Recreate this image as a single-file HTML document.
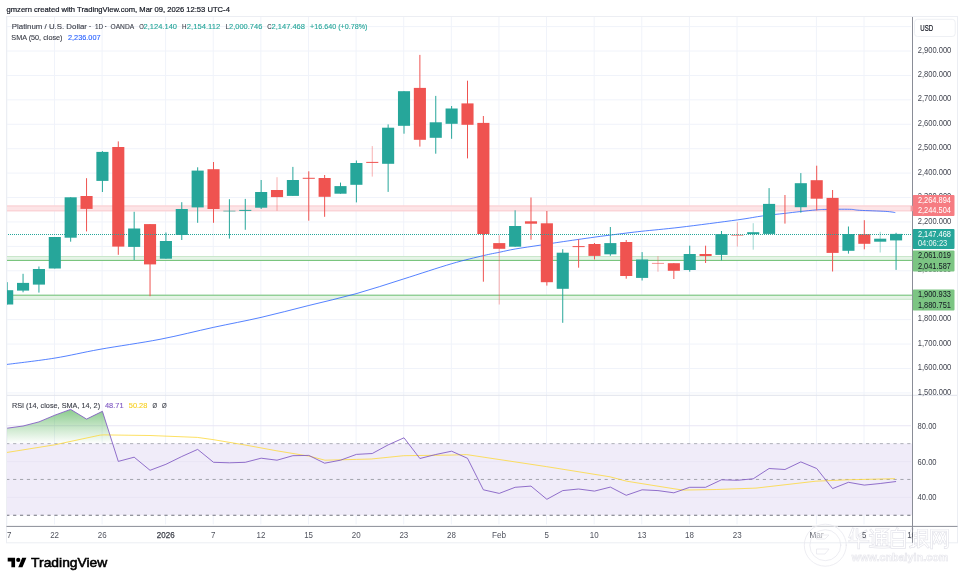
<!DOCTYPE html><html><head><meta charset="utf-8"><style>html,body{margin:0;padding:0;background:#fff;width:964px;height:582px;overflow:hidden}svg{display:block;will-change:transform}text{font-family:"Liberation Sans",sans-serif}</style></head><body>
<svg width="964" height="582" viewBox="0 0 964 582">
<defs><clipPath id="mp"><rect x="6.5" y="16.5" width="906.0" height="378.8"/></clipPath>
<clipPath id="rp"><rect x="6.5" y="395.3" width="906.0" height="131.1"/></clipPath>
<linearGradient id="gg" x1="0" y1="390.7" x2="0" y2="443.7" gradientUnits="userSpaceOnUse"><stop offset="0" stop-color="#4caf50" stop-opacity="1"/><stop offset="1" stop-color="#4caf50" stop-opacity="0"/></linearGradient>
</defs>
<rect width="964" height="582" fill="#fff"/>
<g stroke="#f0f3fa" stroke-width="1" fill="none">
<line x1="6.88" y1="16.5" x2="6.88" y2="395.3"/>
<line x1="6.88" y1="395.3" x2="6.88" y2="524.4"/>
<line x1="54.50" y1="16.5" x2="54.50" y2="395.3"/>
<line x1="54.50" y1="395.3" x2="54.50" y2="524.4"/>
<line x1="102.12" y1="16.5" x2="102.12" y2="395.3"/>
<line x1="102.12" y1="395.3" x2="102.12" y2="524.4"/>
<line x1="165.61" y1="16.5" x2="165.61" y2="395.3"/>
<line x1="165.61" y1="395.3" x2="165.61" y2="524.4"/>
<line x1="213.23" y1="16.5" x2="213.23" y2="395.3"/>
<line x1="213.23" y1="395.3" x2="213.23" y2="524.4"/>
<line x1="260.85" y1="16.5" x2="260.85" y2="395.3"/>
<line x1="260.85" y1="395.3" x2="260.85" y2="524.4"/>
<line x1="308.47" y1="16.5" x2="308.47" y2="395.3"/>
<line x1="308.47" y1="395.3" x2="308.47" y2="524.4"/>
<line x1="356.09" y1="16.5" x2="356.09" y2="395.3"/>
<line x1="356.09" y1="395.3" x2="356.09" y2="524.4"/>
<line x1="403.71" y1="16.5" x2="403.71" y2="395.3"/>
<line x1="403.71" y1="395.3" x2="403.71" y2="524.4"/>
<line x1="451.32" y1="16.5" x2="451.32" y2="395.3"/>
<line x1="451.32" y1="395.3" x2="451.32" y2="524.4"/>
<line x1="498.94" y1="16.5" x2="498.94" y2="395.3"/>
<line x1="498.94" y1="395.3" x2="498.94" y2="524.4"/>
<line x1="546.56" y1="16.5" x2="546.56" y2="395.3"/>
<line x1="546.56" y1="395.3" x2="546.56" y2="524.4"/>
<line x1="594.18" y1="16.5" x2="594.18" y2="395.3"/>
<line x1="594.18" y1="395.3" x2="594.18" y2="524.4"/>
<line x1="641.80" y1="16.5" x2="641.80" y2="395.3"/>
<line x1="641.80" y1="395.3" x2="641.80" y2="524.4"/>
<line x1="689.42" y1="16.5" x2="689.42" y2="395.3"/>
<line x1="689.42" y1="395.3" x2="689.42" y2="524.4"/>
<line x1="737.04" y1="16.5" x2="737.04" y2="395.3"/>
<line x1="737.04" y1="395.3" x2="737.04" y2="524.4"/>
<line x1="816.40" y1="16.5" x2="816.40" y2="395.3"/>
<line x1="816.40" y1="395.3" x2="816.40" y2="524.4"/>
<line x1="864.02" y1="16.5" x2="864.02" y2="395.3"/>
<line x1="864.02" y1="395.3" x2="864.02" y2="524.4"/>
<line x1="6.5" y1="26.60" x2="911.0" y2="26.60"/>
<line x1="6.5" y1="51.02" x2="911.0" y2="51.02"/>
<line x1="6.5" y1="75.44" x2="911.0" y2="75.44"/>
<line x1="6.5" y1="99.86" x2="911.0" y2="99.86"/>
<line x1="6.5" y1="124.28" x2="911.0" y2="124.28"/>
<line x1="6.5" y1="148.70" x2="911.0" y2="148.70"/>
<line x1="6.5" y1="173.12" x2="911.0" y2="173.12"/>
<line x1="6.5" y1="197.54" x2="911.0" y2="197.54"/>
<line x1="6.5" y1="221.96" x2="911.0" y2="221.96"/>
<line x1="6.5" y1="246.38" x2="911.0" y2="246.38"/>
<line x1="6.5" y1="270.80" x2="911.0" y2="270.80"/>
<line x1="6.5" y1="295.22" x2="911.0" y2="295.22"/>
<line x1="6.5" y1="319.64" x2="911.0" y2="319.64"/>
<line x1="6.5" y1="344.06" x2="911.0" y2="344.06"/>
<line x1="6.5" y1="368.48" x2="911.0" y2="368.48"/>
<line x1="6.5" y1="392.90" x2="911.0" y2="392.90"/>
</g>
<g clip-path="url(#mp)">
<rect x="6.5" y="205.5" width="906.0" height="5.8" fill="#fde4e6"/>
<line x1="6.5" y1="206.0" x2="912.5" y2="206.0" stroke="#f9cdd1" stroke-width="1"/>
<line x1="6.5" y1="210.8" x2="912.5" y2="210.8" stroke="#f9cdd1" stroke-width="1"/>
<rect x="6.5" y="256.3" width="906.0" height="4.2" fill="#e6f4e7"/>
<line x1="6.5" y1="256.5" x2="912.5" y2="256.5" stroke="#c9e7cb" stroke-width="1"/>
<line x1="6.5" y1="260.4" x2="912.5" y2="260.4" stroke="#6cbf70" stroke-width="1"/>
<rect x="6.5" y="295.2" width="906.0" height="4.4" fill="#e6f4e7"/>
<line x1="6.5" y1="295.2" x2="912.5" y2="295.2" stroke="#6cbf70" stroke-width="1"/>
<line x1="6.5" y1="299.3" x2="912.5" y2="299.3" stroke="#c9e7cb" stroke-width="1"/>
<path fill="none" stroke="#2962ff" stroke-width="0.8" d="M6.50,364.50 C14.55,363.43 39.22,360.63 54.80,358.10 C70.38,355.57 82.47,352.43 100.00,349.30 C117.53,346.17 141.12,342.95 160.00,339.30 C178.88,335.65 196.47,331.05 213.30,327.40 C230.13,323.75 245.17,321.03 261.00,317.40 C276.83,313.77 292.45,309.55 308.30,305.60 C324.15,301.65 340.25,298.13 356.10,293.70 C371.95,289.27 387.47,284.00 403.40,279.00 C419.33,274.00 438.35,267.60 451.70,263.70 C465.05,259.80 475.50,257.52 483.50,255.60 C491.50,253.68 494.42,253.30 499.70,252.20 C504.98,251.10 508.48,250.17 515.20,249.00 C521.92,247.83 532.53,246.35 540.00,245.20 C547.47,244.05 550.97,243.43 560.00,242.10 C569.03,240.77 584.77,238.50 594.20,237.20 C603.63,235.90 608.72,235.28 616.60,234.30 C624.48,233.32 630.93,232.47 641.50,231.30 C652.07,230.13 664.03,229.20 680.00,227.30 C695.97,225.40 723.50,221.80 737.30,219.90 C751.10,218.00 754.92,216.98 762.80,215.90 C770.68,214.82 778.42,214.12 784.60,213.40 C790.78,212.68 794.65,212.18 799.90,211.60 C805.15,211.02 811.75,210.27 816.10,209.90 C820.45,209.53 820.40,209.50 826.00,209.40 C831.60,209.30 844.08,209.15 849.70,209.30 C855.32,209.45 853.68,209.95 859.70,210.30 C865.72,210.65 879.87,211.02 885.80,211.40 C891.73,211.78 893.72,212.40 895.30,212.60"/>
<line x1="7.18" y1="282.2" x2="7.18" y2="304.5" stroke="#26a69a" stroke-width="1"/>
<rect x="1.13" y="290.2" width="12.1" height="14.3" fill="#26a69a"/>
<line x1="23.05" y1="273.8" x2="23.05" y2="292.3" stroke="#26a69a" stroke-width="1"/>
<rect x="17.00" y="282.9" width="12.1" height="7.7" fill="#26a69a"/>
<line x1="38.93" y1="266.5" x2="38.93" y2="292.6" stroke="#26a69a" stroke-width="1"/>
<rect x="32.88" y="269.0" width="12.1" height="15.6" fill="#26a69a"/>
<line x1="54.80" y1="237.0" x2="54.80" y2="268.5" stroke="#26a69a" stroke-width="1"/>
<rect x="48.75" y="237.0" width="12.1" height="31.5" fill="#26a69a"/>
<line x1="70.67" y1="197.3" x2="70.67" y2="241.7" stroke="#26a69a" stroke-width="1"/>
<rect x="64.62" y="197.3" width="12.1" height="40.4" fill="#26a69a"/>
<line x1="86.55" y1="178.2" x2="86.55" y2="231.4" stroke="#ef5350" stroke-width="1"/>
<rect x="80.50" y="196.0" width="12.1" height="12.9" fill="#ef5350"/>
<line x1="102.42" y1="151.1" x2="102.42" y2="192.0" stroke="#26a69a" stroke-width="1"/>
<rect x="96.37" y="151.9" width="12.1" height="29.0" fill="#26a69a"/>
<line x1="118.29" y1="141.4" x2="118.29" y2="254.8" stroke="#ef5350" stroke-width="1"/>
<rect x="112.24" y="147.0" width="12.1" height="99.6" fill="#ef5350"/>
<line x1="134.16" y1="211.8" x2="134.16" y2="260.0" stroke="#26a69a" stroke-width="1"/>
<rect x="128.11" y="228.5" width="12.1" height="18.4" fill="#26a69a"/>
<line x1="150.04" y1="224.1" x2="150.04" y2="296.2" stroke="#ef5350" stroke-width="1"/>
<rect x="143.99" y="224.1" width="12.1" height="40.3" fill="#ef5350"/>
<line x1="165.91" y1="232.5" x2="165.91" y2="258.7" stroke="#26a69a" stroke-width="1"/>
<rect x="159.86" y="241.0" width="12.1" height="17.7" fill="#26a69a"/>
<line x1="181.78" y1="202.2" x2="181.78" y2="240.0" stroke="#26a69a" stroke-width="1"/>
<rect x="175.73" y="209.0" width="12.1" height="26.0" fill="#26a69a"/>
<line x1="197.66" y1="167.3" x2="197.66" y2="222.8" stroke="#26a69a" stroke-width="1"/>
<rect x="191.61" y="170.6" width="12.1" height="36.8" fill="#26a69a"/>
<line x1="213.53" y1="162.0" x2="213.53" y2="222.8" stroke="#ef5350" stroke-width="1"/>
<rect x="207.48" y="169.2" width="12.1" height="39.8" fill="#ef5350"/>
<line x1="229.40" y1="199.2" x2="229.40" y2="238.6" stroke="#26a69a" stroke-width="1"/>
<rect x="223.35" y="210.6" width="12.1" height="1.0" fill="#26a69a" fill-opacity="0.6"/>
<line x1="245.28" y1="198.9" x2="245.28" y2="229.8" stroke="#26a69a" stroke-width="1"/>
<rect x="239.23" y="209.9" width="12.1" height="1.0" fill="#26a69a"/>
<line x1="261.15" y1="180.0" x2="261.15" y2="209.0" stroke="#26a69a" stroke-width="1"/>
<rect x="255.10" y="192.0" width="12.1" height="15.7" fill="#26a69a"/>
<line x1="277.02" y1="177.2" x2="277.02" y2="210.8" stroke="#ef5350" stroke-width="1" stroke-opacity="0.45"/>
<rect x="270.97" y="190.0" width="12.1" height="7.1" fill="#ef5350"/>
<line x1="292.89" y1="166.9" x2="292.89" y2="195.9" stroke="#26a69a" stroke-width="1"/>
<rect x="286.84" y="180.0" width="12.1" height="15.9" fill="#26a69a"/>
<line x1="308.77" y1="171.3" x2="308.77" y2="220.7" stroke="#ef5350" stroke-width="1"/>
<rect x="302.72" y="177.8" width="12.1" height="1.0" fill="#ef5350"/>
<line x1="324.64" y1="175.0" x2="324.64" y2="216.8" stroke="#ef5350" stroke-width="1"/>
<rect x="318.59" y="178.0" width="12.1" height="18.8" fill="#ef5350"/>
<line x1="340.51" y1="182.6" x2="340.51" y2="193.7" stroke="#26a69a" stroke-width="1"/>
<rect x="334.46" y="186.1" width="12.1" height="7.6" fill="#26a69a"/>
<line x1="356.39" y1="160.5" x2="356.39" y2="202.4" stroke="#26a69a" stroke-width="1"/>
<rect x="350.34" y="163.0" width="12.1" height="21.8" fill="#26a69a"/>
<line x1="372.26" y1="146.1" x2="372.26" y2="176.6" stroke="#ef5350" stroke-width="1" stroke-opacity="0.45"/>
<rect x="366.21" y="161.9" width="12.1" height="1.0" fill="#ef5350"/>
<line x1="388.13" y1="124.4" x2="388.13" y2="191.9" stroke="#26a69a" stroke-width="1"/>
<rect x="382.08" y="127.7" width="12.1" height="36.1" fill="#26a69a"/>
<line x1="404.01" y1="91.2" x2="404.01" y2="133.7" stroke="#26a69a" stroke-width="1"/>
<rect x="397.96" y="91.2" width="12.1" height="34.6" fill="#26a69a"/>
<line x1="419.88" y1="54.9" x2="419.88" y2="146.6" stroke="#ef5350" stroke-width="1"/>
<rect x="413.83" y="87.9" width="12.1" height="51.9" fill="#ef5350"/>
<line x1="435.75" y1="95.9" x2="435.75" y2="153.7" stroke="#26a69a" stroke-width="1"/>
<rect x="429.70" y="122.3" width="12.1" height="15.5" fill="#26a69a"/>
<line x1="451.62" y1="106.0" x2="451.62" y2="138.8" stroke="#26a69a" stroke-width="1"/>
<rect x="445.57" y="108.5" width="12.1" height="15.3" fill="#26a69a"/>
<line x1="467.50" y1="80.7" x2="467.50" y2="158.4" stroke="#ef5350" stroke-width="1"/>
<rect x="461.45" y="103.4" width="12.1" height="21.4" fill="#ef5350"/>
<line x1="483.37" y1="116.0" x2="483.37" y2="281.7" stroke="#ef5350" stroke-width="1"/>
<rect x="477.32" y="122.9" width="12.1" height="111.1" fill="#ef5350"/>
<line x1="499.24" y1="235.3" x2="499.24" y2="304.5" stroke="#ef5350" stroke-width="1" stroke-opacity="0.45"/>
<rect x="493.19" y="243.1" width="12.1" height="5.7" fill="#ef5350"/>
<line x1="515.12" y1="210.3" x2="515.12" y2="246.7" stroke="#26a69a" stroke-width="1"/>
<rect x="509.07" y="226.0" width="12.1" height="20.7" fill="#26a69a"/>
<line x1="530.99" y1="197.5" x2="530.99" y2="239.7" stroke="#ef5350" stroke-width="1"/>
<rect x="524.94" y="221.3" width="12.1" height="2.4" fill="#ef5350"/>
<line x1="546.86" y1="211.0" x2="546.86" y2="285.6" stroke="#ef5350" stroke-width="1"/>
<rect x="540.81" y="223.3" width="12.1" height="58.9" fill="#ef5350"/>
<line x1="562.74" y1="249.2" x2="562.74" y2="322.8" stroke="#26a69a" stroke-width="1"/>
<rect x="556.69" y="252.7" width="12.1" height="36.1" fill="#26a69a"/>
<line x1="578.61" y1="239.3" x2="578.61" y2="267.7" stroke="#ef5350" stroke-width="1"/>
<rect x="572.56" y="246.1" width="12.1" height="1.0" fill="#ef5350"/>
<line x1="594.48" y1="243.0" x2="594.48" y2="259.5" stroke="#ef5350" stroke-width="1"/>
<rect x="588.43" y="244.0" width="12.1" height="11.9" fill="#ef5350"/>
<line x1="610.35" y1="227.0" x2="610.35" y2="255.8" stroke="#26a69a" stroke-width="1"/>
<rect x="604.30" y="243.1" width="12.1" height="11.2" fill="#26a69a"/>
<line x1="626.23" y1="240.0" x2="626.23" y2="278.7" stroke="#ef5350" stroke-width="1"/>
<rect x="620.18" y="242.0" width="12.1" height="34.0" fill="#ef5350"/>
<line x1="642.10" y1="252.1" x2="642.10" y2="280.5" stroke="#26a69a" stroke-width="1"/>
<rect x="636.05" y="259.5" width="12.1" height="18.4" fill="#26a69a"/>
<line x1="657.97" y1="256.2" x2="657.97" y2="271.7" stroke="#ef5350" stroke-width="1" stroke-opacity="0.45"/>
<rect x="651.92" y="262.9" width="12.1" height="1.0" fill="#ef5350" fill-opacity="0.6"/>
<line x1="673.85" y1="263.2" x2="673.85" y2="279.0" stroke="#ef5350" stroke-width="1"/>
<rect x="667.80" y="263.2" width="12.1" height="7.6" fill="#ef5350"/>
<line x1="689.72" y1="245.7" x2="689.72" y2="271.7" stroke="#26a69a" stroke-width="1"/>
<rect x="683.67" y="254.0" width="12.1" height="16.0" fill="#26a69a"/>
<line x1="705.59" y1="245.7" x2="705.59" y2="263.0" stroke="#ef5350" stroke-width="1"/>
<rect x="699.54" y="254.0" width="12.1" height="2.0" fill="#ef5350"/>
<line x1="721.47" y1="231.0" x2="721.47" y2="260.4" stroke="#26a69a" stroke-width="1"/>
<rect x="715.42" y="234.1" width="12.1" height="20.8" fill="#26a69a"/>
<line x1="737.34" y1="222.2" x2="737.34" y2="246.6" stroke="#ef5350" stroke-width="1" stroke-opacity="0.45"/>
<rect x="731.29" y="234.8" width="12.1" height="1.0" fill="#ef5350" fill-opacity="0.6"/>
<line x1="753.21" y1="223.2" x2="753.21" y2="249.7" stroke="#26a69a" stroke-width="1" stroke-opacity="0.45"/>
<rect x="747.16" y="232.2" width="12.1" height="1.9" fill="#26a69a"/>
<line x1="769.08" y1="188.1" x2="769.08" y2="233.9" stroke="#26a69a" stroke-width="1"/>
<rect x="763.03" y="203.9" width="12.1" height="30.0" fill="#26a69a"/>
<line x1="784.96" y1="195.0" x2="784.96" y2="223.6" stroke="#ef5350" stroke-width="1"/>
<line x1="800.83" y1="173.1" x2="800.83" y2="212.7" stroke="#26a69a" stroke-width="1"/>
<rect x="794.78" y="183.2" width="12.1" height="24.0" fill="#26a69a"/>
<line x1="816.70" y1="165.7" x2="816.70" y2="210.4" stroke="#ef5350" stroke-width="1"/>
<rect x="810.65" y="180.2" width="12.1" height="18.5" fill="#ef5350"/>
<line x1="832.58" y1="190.0" x2="832.58" y2="271.5" stroke="#ef5350" stroke-width="1"/>
<rect x="826.53" y="197.9" width="12.1" height="55.0" fill="#ef5350"/>
<line x1="848.45" y1="226.5" x2="848.45" y2="253.6" stroke="#26a69a" stroke-width="1"/>
<rect x="842.40" y="234.0" width="12.1" height="16.8" fill="#26a69a"/>
<line x1="864.32" y1="220.2" x2="864.32" y2="249.3" stroke="#ef5350" stroke-width="1"/>
<rect x="858.27" y="234.2" width="12.1" height="9.6" fill="#ef5350"/>
<line x1="880.20" y1="231.8" x2="880.20" y2="252.5" stroke="#26a69a" stroke-width="1" stroke-opacity="0.45"/>
<rect x="874.15" y="238.7" width="12.1" height="3.0" fill="#26a69a"/>
<line x1="896.07" y1="232.8" x2="896.07" y2="269.9" stroke="#26a69a" stroke-width="1"/>
<rect x="890.02" y="233.9" width="12.1" height="6.5" fill="#26a69a"/>
<line x1="6" y1="234.5" x2="912.5" y2="234.5" stroke="#26a69a" stroke-width="1" stroke-dasharray="1 1"/>
</g>
<g clip-path="url(#rp)">
<rect x="6.5" y="443.6" width="906.0" height="71.6" fill="#f0ecf9"/>
<line x1="6.5" y1="425.75" x2="911.0" y2="425.75" stroke="#e9e6f5" stroke-width="1"/>
<line x1="6.5" y1="461.55" x2="911.0" y2="461.55" stroke="#e9e6f5" stroke-width="1"/>
<line x1="6.5" y1="497.35" x2="911.0" y2="497.35" stroke="#e9e6f5" stroke-width="1"/>
<line x1="6.22" y1="443.65" x2="912.5" y2="443.65" stroke="#aeb0b8" stroke-width="1" stroke-dasharray="3.2 3.678"/>
<line x1="6.22" y1="479.45" x2="912.5" y2="479.45" stroke="#a2a4ad" stroke-width="1" stroke-dasharray="3.2 3.678"/>
<line x1="6.22" y1="515.25" x2="912.5" y2="515.25" stroke="#70737d" stroke-width="1" stroke-dasharray="3.2 3.678"/>
<polygon fill="url(#gg)" points="5.50,443.65 5.50,428.20 7.18,428.20 23.05,426.00 38.93,421.90 54.80,415.20 70.67,409.40 86.55,419.10 102.42,411.30 112.67,443.65"/>
<polyline fill="none" stroke="#fcd83a" stroke-width="0.8" points="6.6,452.5 54.8,444.8 100.2,435.1 104.0,434.9 150.0,435.5 197.3,437.4 213.0,439.6 244.6,444.9 276.1,450.7 310.0,456.3 324.9,460.2 356.4,459.4 371.4,459.0 403.7,455.7 450.0,455.1 466.6,454.6 546.3,466.6 610.0,476.8 626.6,481.2 673.0,488.6 683.0,490.1 716.2,489.5 756.0,488.1 815.9,481.2 847.4,479.8 895.0,478.7"/>
<polyline fill="none" stroke="#7e57c2" stroke-width="0.85" stroke-linejoin="round" points="7.18,428.20 23.05,426.00 38.93,421.90 54.80,415.20 70.67,409.40 86.55,419.10 102.42,411.30 118.29,461.40 134.16,457.20 150.04,470.30 165.91,464.30 181.78,456.50 197.66,449.40 213.53,462.30 229.40,462.80 245.28,462.30 261.15,458.20 277.02,460.20 292.89,455.70 308.77,455.40 324.64,463.20 340.51,460.20 356.39,454.40 372.26,453.50 388.13,444.90 404.01,437.80 419.88,458.50 435.75,454.50 451.62,451.20 467.50,458.30 483.37,489.80 499.24,493.40 515.12,487.30 530.99,486.10 546.86,499.30 562.74,490.60 578.61,489.00 594.48,491.10 610.35,487.10 626.23,495.30 642.10,489.80 657.97,490.60 673.85,492.80 689.72,487.30 705.59,487.30 721.47,479.80 737.34,480.30 753.21,478.80 769.08,468.50 784.96,469.50 800.83,461.90 816.70,468.50 832.58,488.60 848.45,482.30 864.32,485.10 880.20,483.50 896.07,481.50"/>
</g>
<line x1="6.5" y1="395.3" x2="957.5" y2="395.3" stroke="#e0e3eb" stroke-width="1"/>
<rect x="6.5" y="16.5" width="951.0" height="526.3" fill="none" stroke="#eceef3" stroke-width="1"/>
<line x1="6.5" y1="526.4" x2="957.5" y2="526.4" stroke="#8a8d97" stroke-width="1"/>
<line x1="912.5" y1="17.0" x2="912.5" y2="542.8" stroke="#8a8d97" stroke-width="1"/>
<text x="917.70" y="52.60" font-size="8.60" fill="#434651" textLength="33.60" lengthAdjust="spacingAndGlyphs">2,900.000</text>
<text x="917.70" y="77.03" font-size="8.60" fill="#434651" textLength="33.60" lengthAdjust="spacingAndGlyphs">2,800.000</text>
<text x="917.70" y="101.46" font-size="8.60" fill="#434651" textLength="33.60" lengthAdjust="spacingAndGlyphs">2,700.000</text>
<text x="917.70" y="125.89" font-size="8.60" fill="#434651" textLength="33.60" lengthAdjust="spacingAndGlyphs">2,600.000</text>
<text x="917.70" y="150.32" font-size="8.60" fill="#434651" textLength="33.60" lengthAdjust="spacingAndGlyphs">2,500.000</text>
<text x="917.70" y="174.75" font-size="8.60" fill="#434651" textLength="33.60" lengthAdjust="spacingAndGlyphs">2,400.000</text>
<text x="917.70" y="199.18" font-size="8.60" fill="#434651" textLength="33.60" lengthAdjust="spacingAndGlyphs">2,300.000</text>
<text x="917.70" y="223.61" font-size="8.60" fill="#434651" textLength="33.60" lengthAdjust="spacingAndGlyphs">2,200.000</text>
<text x="917.70" y="272.47" font-size="8.60" fill="#434651" textLength="33.60" lengthAdjust="spacingAndGlyphs">2,000.000</text>
<text x="917.70" y="321.33" font-size="8.60" fill="#434651" textLength="33.60" lengthAdjust="spacingAndGlyphs">1,800.000</text>
<text x="917.70" y="345.76" font-size="8.60" fill="#434651" textLength="33.60" lengthAdjust="spacingAndGlyphs">1,700.000</text>
<text x="917.70" y="370.19" font-size="8.60" fill="#434651" textLength="33.60" lengthAdjust="spacingAndGlyphs">1,600.000</text>
<text x="917.70" y="394.62" font-size="8.60" fill="#434651" textLength="33.60" lengthAdjust="spacingAndGlyphs">1,500.000</text>
<rect x="910.6" y="205.8" width="2.2" height="5.4" fill="#f7a0a5"/>
<rect x="912.8" y="195.0" width="41.7" height="21.0" rx="1" fill="#f67c82"/>
<rect x="912.8" y="229.0" width="41.7" height="20.0" rx="1" fill="#26a69a"/>
<rect x="912.8" y="250.6" width="41.7" height="20.8" rx="1" fill="#7cc583"/>
<rect x="912.8" y="289.6" width="41.7" height="20.8" rx="1" fill="#7cc583"/>
<text x="917.90" y="203.10" font-size="8.60" fill="#fff" textLength="33.00" lengthAdjust="spacingAndGlyphs">2,264.894</text>
<text x="917.90" y="213.30" font-size="8.60" fill="#fff" textLength="33.00" lengthAdjust="spacingAndGlyphs">2,244.504</text>
<text x="917.90" y="236.80" font-size="8.60" fill="#fff" textLength="33.00" lengthAdjust="spacingAndGlyphs">2,147.468</text>
<text x="917.90" y="245.50" font-size="8.60" fill="#e8f5f3" textLength="29.40" lengthAdjust="spacingAndGlyphs">04:06:23</text>
<text x="917.90" y="258.20" font-size="8.60" fill="#131722" textLength="33.00" lengthAdjust="spacingAndGlyphs">2,061.019</text>
<text x="917.90" y="269.00" font-size="8.60" fill="#131722" textLength="33.00" lengthAdjust="spacingAndGlyphs">2,041.587</text>
<text x="917.90" y="297.10" font-size="8.60" fill="#131722" textLength="33.00" lengthAdjust="spacingAndGlyphs">1,900.933</text>
<text x="917.90" y="307.60" font-size="8.60" fill="#131722" textLength="33.00" lengthAdjust="spacingAndGlyphs">1,880.751</text>
<rect x="914.5" y="19.3" width="40.7" height="17.2" rx="3" fill="#fff" stroke="#eef0f4" stroke-width="1"/>
<text x="920.30" y="30.90" font-size="8.60" fill="#131722" textLength="12.80" lengthAdjust="spacingAndGlyphs" stroke="#131722" stroke-width="0.20">USD</text>
<text x="917.60" y="428.70" font-size="8.60" fill="#434651" textLength="19.00" lengthAdjust="spacingAndGlyphs">80.00</text>
<text x="917.60" y="464.50" font-size="8.60" fill="#434651" textLength="19.00" lengthAdjust="spacingAndGlyphs">60.00</text>
<text x="917.60" y="499.90" font-size="8.60" fill="#434651" textLength="19.00" lengthAdjust="spacingAndGlyphs">40.00</text>
<svg x="7" y="527" width="905.5" height="15.5" overflow="hidden">
<text x="-0.02" y="10.70" font-size="8.20" fill="#50535e" text-anchor="middle" textLength="8.86" lengthAdjust="spacingAndGlyphs">17</text>
<text x="47.60" y="10.70" font-size="8.20" fill="#50535e" text-anchor="middle" textLength="8.86" lengthAdjust="spacingAndGlyphs">22</text>
<text x="95.22" y="10.70" font-size="8.20" fill="#50535e" text-anchor="middle" textLength="8.86" lengthAdjust="spacingAndGlyphs">26</text>
<text x="158.71" y="10.70" font-size="8.20" fill="#3b3e48" text-anchor="middle" textLength="17.72" lengthAdjust="spacingAndGlyphs" stroke="#3b3e48" stroke-width="0.25">2026</text>
<text x="206.33" y="10.70" font-size="8.20" fill="#50535e" text-anchor="middle" textLength="4.43" lengthAdjust="spacingAndGlyphs">7</text>
<text x="253.95" y="10.70" font-size="8.20" fill="#50535e" text-anchor="middle" textLength="8.86" lengthAdjust="spacingAndGlyphs">12</text>
<text x="301.57" y="10.70" font-size="8.20" fill="#50535e" text-anchor="middle" textLength="8.86" lengthAdjust="spacingAndGlyphs">15</text>
<text x="349.19" y="10.70" font-size="8.20" fill="#50535e" text-anchor="middle" textLength="8.86" lengthAdjust="spacingAndGlyphs">20</text>
<text x="396.81" y="10.70" font-size="8.20" fill="#50535e" text-anchor="middle" textLength="8.86" lengthAdjust="spacingAndGlyphs">23</text>
<text x="444.43" y="10.70" font-size="8.20" fill="#50535e" text-anchor="middle" textLength="8.86" lengthAdjust="spacingAndGlyphs">28</text>
<text x="492.04" y="10.70" font-size="8.20" fill="#50535e" text-anchor="middle">Feb</text>
<text x="539.66" y="10.70" font-size="8.20" fill="#50535e" text-anchor="middle" textLength="4.43" lengthAdjust="spacingAndGlyphs">5</text>
<text x="587.28" y="10.70" font-size="8.20" fill="#50535e" text-anchor="middle" textLength="8.86" lengthAdjust="spacingAndGlyphs">10</text>
<text x="634.90" y="10.70" font-size="8.20" fill="#50535e" text-anchor="middle" textLength="8.86" lengthAdjust="spacingAndGlyphs">13</text>
<text x="682.52" y="10.70" font-size="8.20" fill="#50535e" text-anchor="middle" textLength="8.86" lengthAdjust="spacingAndGlyphs">18</text>
<text x="730.14" y="10.70" font-size="8.20" fill="#50535e" text-anchor="middle" textLength="8.86" lengthAdjust="spacingAndGlyphs">23</text>
<text x="809.50" y="10.70" font-size="8.20" fill="#50535e" text-anchor="middle">Mar</text>
</svg>
<text x="6.50" y="11.80" font-size="7.90" fill="#131722" textLength="223.40" lengthAdjust="spacingAndGlyphs" stroke="#131722" stroke-width="0.2">gmzern created with TradingView.com, Mar 09, 2026 12:53 UTC-4</text>
<text x="11.80" y="28.70" font-size="7.60" fill="#3b3e48" textLength="75.10" lengthAdjust="spacingAndGlyphs" stroke="#3b3e48" stroke-width="0.12">Platinum / U.S. Dollar</text>
<text x="88.80" y="28.70" font-size="7.60" fill="#3b3e48" stroke="#3b3e48" stroke-width="0.12">·</text>
<text x="95.00" y="28.70" font-size="7.60" fill="#3b3e48" textLength="8.20" lengthAdjust="spacingAndGlyphs" stroke="#3b3e48" stroke-width="0.12">1D</text>
<text x="104.60" y="28.70" font-size="7.60" fill="#3b3e48" stroke="#3b3e48" stroke-width="0.12">·</text>
<text x="110.50" y="28.70" font-size="7.60" fill="#3b3e48" textLength="23.60" lengthAdjust="spacingAndGlyphs" stroke="#3b3e48" stroke-width="0.12">OANDA</text>
<text x="139.20" y="28.70" font-size="7.60" fill="#3b3e48" textLength="4.60" lengthAdjust="spacingAndGlyphs" stroke="#3b3e48" stroke-width="0.12">O</text>
<text x="143.60" y="28.70" font-size="7.60" fill="#26a69a" textLength="33.40" lengthAdjust="spacingAndGlyphs" stroke="#26a69a" stroke-width="0.12">2,124.140</text>
<text x="182.00" y="28.70" font-size="7.60" fill="#3b3e48" textLength="4.50" lengthAdjust="spacingAndGlyphs" stroke="#3b3e48" stroke-width="0.12">H</text>
<text x="186.80" y="28.70" font-size="7.60" fill="#26a69a" textLength="33.40" lengthAdjust="spacingAndGlyphs" stroke="#26a69a" stroke-width="0.12">2,154.112</text>
<text x="225.50" y="28.70" font-size="7.60" fill="#3b3e48" textLength="3.60" lengthAdjust="spacingAndGlyphs" stroke="#3b3e48" stroke-width="0.12">L</text>
<text x="229.10" y="28.70" font-size="7.60" fill="#26a69a" textLength="33.20" lengthAdjust="spacingAndGlyphs" stroke="#26a69a" stroke-width="0.12">2,000.746</text>
<text x="267.30" y="28.70" font-size="7.60" fill="#3b3e48" textLength="4.30" lengthAdjust="spacingAndGlyphs" stroke="#3b3e48" stroke-width="0.12">C</text>
<text x="271.50" y="28.70" font-size="7.60" fill="#26a69a" textLength="33.50" lengthAdjust="spacingAndGlyphs" stroke="#26a69a" stroke-width="0.12">2,147.468</text>
<text x="310.10" y="28.70" font-size="7.60" fill="#26a69a" textLength="57.30" lengthAdjust="spacingAndGlyphs" stroke="#26a69a" stroke-width="0.12">+16.640 (+0.78%)</text>
<text x="11.30" y="39.70" font-size="7.60" fill="#3b3e48" textLength="51.20" lengthAdjust="spacingAndGlyphs" stroke="#3b3e48" stroke-width="0.12">SMA (50, close)</text>
<text x="68.00" y="39.70" font-size="7.60" fill="#2962ff" textLength="32.60" lengthAdjust="spacingAndGlyphs" stroke="#2962ff" stroke-width="0.12">2,236.007</text>
<text x="11.90" y="407.80" font-size="7.60" fill="#3b3e48" textLength="88.20" lengthAdjust="spacingAndGlyphs" stroke="#3b3e48" stroke-width="0.12">RSI (14, close, SMA, 14, 2)</text>
<text x="105.00" y="407.80" font-size="7.60" fill="#7e57c2" textLength="18.50" lengthAdjust="spacingAndGlyphs" stroke="#7e57c2" stroke-width="0.12">48.71</text>
<text x="128.80" y="407.80" font-size="7.60" fill="#f7cf22" textLength="18.50" lengthAdjust="spacingAndGlyphs" stroke="#f7cf22" stroke-width="0.12">50.28</text>
<text x="152.60" y="407.80" font-size="7.20" fill="#3b3e48" textLength="4.60" lengthAdjust="spacingAndGlyphs" stroke="#3b3e48" stroke-width="0.12">Ø</text>
<text x="162.00" y="407.80" font-size="7.20" fill="#3b3e48" textLength="4.70" lengthAdjust="spacingAndGlyphs" stroke="#3b3e48" stroke-width="0.12">Ø</text>
<g transform="translate(7.70,555.70) scale(0.527)" fill="#000"><path d="M14 22H7V11H0V4h14v18zM28 22h-8l7.5-18h8L28 22z"/><circle cx="20" cy="8" r="4"/></g>
<text x="31.10" y="567.20" font-size="12.90" fill="#000" textLength="76.20" lengthAdjust="spacingAndGlyphs" stroke="#000" stroke-width="0.55">TradingView</text>
<g fill="none" stroke-linecap="square">
<rect x="812" y="525.6" width="26" height="1.6" fill="#fff" fill-opacity="0.55" stroke="none"/>
<rect x="815.5" y="530" width="8" height="9" fill="#fff" fill-opacity="0.5" stroke="none"/>
<circle cx="825.3" cy="545.2" r="21" stroke="#e9e9ef" stroke-width="0.8"/>
<circle cx="825.3" cy="545.2" r="15.5" stroke="#e9e9ef" stroke-width="0.8"/>
<path d="M817 535h12l-4 4h-8zM817 549h12l-4 5h-8z" stroke="#e9e9ef" stroke-width="0.8"/>
<path d="M853,529L849.8,537M852,533.5V540M857,529.5V536.5Q857,538 859,538H865M866,531L859.5,535M849.8,541.2H868M858.7,538.5V548M871,530.2L872.6,532.2M870.2,535.5H873V543.5M870.2,546.5Q876,547.5 889,547M876.5,529.8H886.5L883,532.5M876.5,533.5H887V544.5M876.5,533.5V544.5M876.5,538.5H887M876.5,542H887M881.7,531V545M897.2,528.8L896.2,531M891.8,531.5H904.6V547.4H891.8ZM891.8,539.3H904.6M912.2,529.2L910.3,534M911,533.2H916M911,537.4H916M913.4,533.2V546.5M910.6,547L916,544.8M918.3,530.2H926.8V539H918.3M918.3,534.6H926.8M918.3,530.2V547M921.5,539.5L928,547M918.3,547L924,543.5M931.6,548V530.2H947.4V546Q947.4,547.6 945.2,547.6M934.2,533.5L939,543M938.4,533.5L934,543M940.6,533.5L945.2,543M944.8,533.5L940.4,543" stroke="#e4e4eb" stroke-width="2.6"/>
<path d="M853,529L849.8,537M852,533.5V540M857,529.5V536.5Q857,538 859,538H865M866,531L859.5,535M849.8,541.2H868M858.7,538.5V548M871,530.2L872.6,532.2M870.2,535.5H873V543.5M870.2,546.5Q876,547.5 889,547M876.5,529.8H886.5L883,532.5M876.5,533.5H887V544.5M876.5,533.5V544.5M876.5,538.5H887M876.5,542H887M881.7,531V545M897.2,528.8L896.2,531M891.8,531.5H904.6V547.4H891.8ZM891.8,539.3H904.6M912.2,529.2L910.3,534M911,533.2H916M911,537.4H916M913.4,533.2V546.5M910.6,547L916,544.8M918.3,530.2H926.8V539H918.3M918.3,534.6H926.8M918.3,530.2V547M921.5,539.5L928,547M918.3,547L924,543.5M931.6,548V530.2H947.4V546Q947.4,547.6 945.2,547.6M934.2,533.5L939,543M938.4,533.5L934,543M940.6,533.5L945.2,543M944.8,533.5L940.4,543" stroke="#ffffff" stroke-width="1.2"/>
</g>
<text x="851.80" y="561.00" font-size="11.50" fill="#fff" font-weight="bold" textLength="96.50" lengthAdjust="spacingAndGlyphs" stroke="#e6e6ec" stroke-width="0.7">www.cnbaiyin.com</text>
<line x1="912.5" y1="527" x2="912.5" y2="542.8" stroke="#8a8d97" stroke-width="1"/>
<text x="864.12" y="537.70" font-size="8.20" fill="#50535e" text-anchor="middle" textLength="4.43" lengthAdjust="spacingAndGlyphs">5</text>
<rect x="0" y="0" width="0" height="0"/>
<svg x="6" y="527" width="906.5" height="15" overflow="hidden">
<text x="905.74" y="10.70" font-size="8.20" fill="#50535e" text-anchor="middle" textLength="8.86" lengthAdjust="spacingAndGlyphs">10</text>
</svg>
</svg></body></html>
